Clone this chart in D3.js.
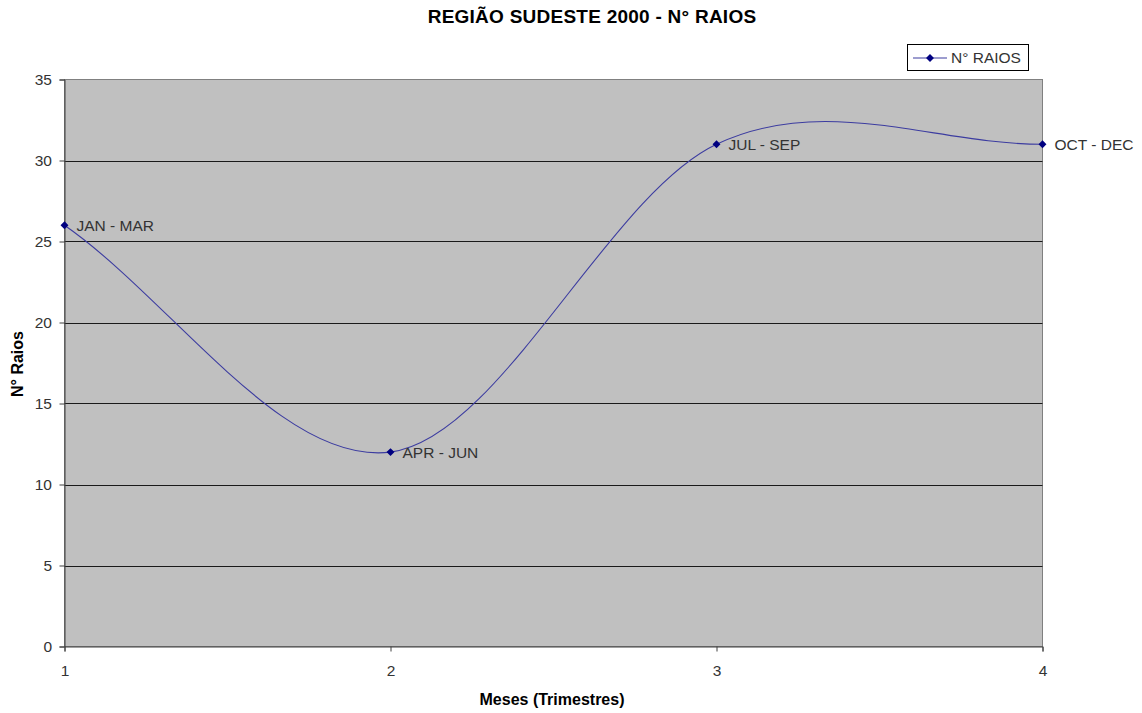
<!DOCTYPE html>
<html><head><meta charset="utf-8">
<script src="https://cdn.jsdelivr.net/npm/d3@7"></script>
<style>body{margin:0;background:#fff}svg{display:block;font-family:"Liberation Sans",Arial,sans-serif}</style>
</head><body>
<svg id="c" width="1142" height="713"></svg>
<script>
const quarters = [1, 2, 3, 4];
const raios = [26, 12, 31, 31];
const pointLabels = ["JAN - MAR", "APR - JUN", "JUL - SEP", "OCT - DEC"];
const yTicks = [0, 5, 10, 15, 20, 25, 30, 35];
const xTicks = [1, 2, 3, 4];
const title = "REGIÃO SUDESTE 2000 - N° RAIOS";
const xTitle = "Meses (Trimestres)";
const yTitle = "N° Raios";
const seriesName = "N° RAIOS";

const FONT = "Liberation Sans, Arial, sans-serif";
const svg = d3.select("#c");
const L = 64.5, R = 1042.5, T = 79.5, B = 646.5;
const x = d3.scaleLinear().domain([1, 4]).range([L, R]);
const y = d3.scaleLinear().domain([0, 35]).range([B, T]);

svg.append("rect").attr("x", L).attr("y", T).attr("width", R - L).attr("height", B - T)
  .attr("fill", "#c0c0c0").attr("stroke", "#808080").attr("stroke-width", 1);

// gridlines
svg.append("g").selectAll("line").data(yTicks.filter(d => d > 0 && d < 35)).join("line")
  .attr("x1", L).attr("x2", R).attr("y1", d => Math.round(y(d)) + 0.5).attr("y2", d => Math.round(y(d)) + 0.5)
  .attr("stroke", "#1a1a1a").attr("stroke-width", 1);

// axes
const yAxis = d3.axisLeft(y).tickValues(yTicks).tickSize(5).tickPadding(7.5);
const gy = svg.append("g").attr("transform", `translate(${L},0)`).call(yAxis);
gy.select(".domain").attr("stroke", "#404040");
gy.selectAll(".tick line").attr("stroke", "#404040");
gy.selectAll("text").attr("font-size", 15.5).attr("fill", "#333").attr("font-family", FONT);

const xAxis = d3.axisBottom(x).tickValues(xTicks).tickFormat(d3.format("d")).tickSize(5).tickPadding(13.5);
const gx = svg.append("g").attr("transform", `translate(0,${B})`).call(xAxis);
gx.select(".domain").attr("stroke", "#404040");
gx.selectAll(".tick line").attr("stroke", "#404040");
gx.selectAll("text").attr("font-size", 15.5).attr("fill", "#333").attr("font-family", FONT);

// smoothed line (Excel-style Bezier smoothing with reflected end points)
const data = quarters.map((q, i) => ({q, v: raios[i], lab: pointLabels[i]}));
const P = data.map(d => [x(d.q), y(d.v)]);
const n = P.length;
const ext = [[2 * P[0][0] - P[1][0], 2 * P[0][1] - P[1][1]], ...P,
             [2 * P[n - 1][0] - P[n - 2][0], 2 * P[n - 1][1] - P[n - 2][1]]];
const path = d3.path();
path.moveTo(P[0][0], P[0][1]);
for (let i = 1; i < n; i++) {
  const p0 = ext[i - 1], p1 = ext[i], p2 = ext[i + 1], p3 = ext[i + 2];
  path.bezierCurveTo(
    p1[0] + (p2[0] - p0[0]) / 6, p1[1] + (p2[1] - p0[1]) / 6,
    p2[0] - (p3[0] - p1[0]) / 6, p2[1] - (p3[1] - p1[1]) / 6,
    p2[0], p2[1]);
}
svg.append("path").attr("d", path.toString()).attr("fill", "none")
  .attr("stroke", "#3c3ca0").attr("stroke-width", 1.1);

const diamond = d3.symbol().type(d3.symbolDiamond2 || d3.symbolDiamond).size(40);
svg.append("g").selectAll("path").data(data).join("path")
  .attr("d", diamond).attr("transform", d => `translate(${x(d.q)},${y(d.v)})`)
  .attr("fill", "#000080");

svg.append("g").selectAll("text").data(data).join("text")
  .attr("x", d => x(d.q) + 12).attr("y", d => y(d.v) + 6)
  .attr("font-size", 15.5).attr("fill", "#333").text(d => d.lab);

// titles
svg.append("text").attr("x", 592).attr("y", 23).attr("text-anchor", "middle")
  .attr("font-size", 19).attr("font-weight", "bold").attr("letter-spacing", 0.25).attr("fill", "#000").text(title);
svg.append("text").attr("x", 552).attr("y", 705).attr("text-anchor", "middle")
  .attr("font-size", 16).attr("font-weight", "bold").attr("fill", "#000").text(xTitle);
svg.append("text").attr("transform", "translate(23,364) rotate(-90)").attr("text-anchor", "middle")
  .attr("font-size", 16).attr("font-weight", "bold").attr("fill", "#000").text(yTitle);

// legend
const lg = svg.append("g");
lg.append("rect").attr("x", 907.5).attr("y", 44.5).attr("width", 121).attr("height", 26)
  .attr("fill", "#fff").attr("stroke", "#000").attr("stroke-width", 1);
lg.append("line").attr("x1", 913).attr("x2", 947).attr("y1", 58).attr("y2", 58)
  .attr("stroke", "#3c3ca0").attr("stroke-width", 1.1);
lg.append("path").attr("d", diamond).attr("transform", "translate(930,58)").attr("fill", "#000080");
lg.append("text").attr("x", 951).attr("y", 63.3).attr("font-size", 15.5).attr("fill", "#333").text(seriesName);
</script>
</body></html>
